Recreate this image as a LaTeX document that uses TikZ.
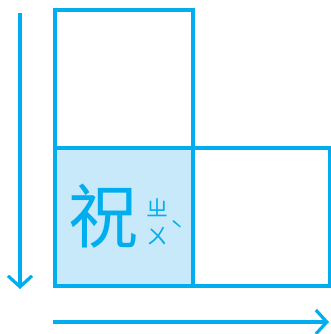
\documentclass[tikz,border=0pt]{standalone}
\usepackage{fontspec}
\newfontfamily\cjk{Noto Sans CJK TC}
\usetikzlibrary{arrows.meta}
\definecolor{cy}{HTML}{00AEEF}
\definecolor{lb}{HTML}{C8E9F9}
\begin{document}
\begin{tikzpicture}[x=1pt,y=-1pt,
  sq/.style={draw=cy,line width=3.6pt},
  axis/.style={draw=cy,line width=3.2pt,-{Straight Barb[length=11pt,width=24pt,line width=3.2pt]}},
  big/.style={text=cy,font=\cjk\fontsize{70}{70}\selectfont,inner sep=0pt},
  small/.style={text=cy,font=\cjk\fontsize{22}{22}\selectfont,inner sep=0pt}]
\useasboundingbox (0,0) rectangle (331,334);
\path[sq] (55,10) rectangle (193,148);
\path[sq,fill=lb] (55,148) rectangle (193,286);
\path[sq] (193,148) rectangle (330,286);
\coordinate (vs) at (20,13);
\coordinate (ve) at (20,289);
\coordinate (hs) at (53,322);
\coordinate (he) at (329,322);
\draw[axis] (vs) -- (ve);
\draw[axis] (hs) -- (he);
\node[big] (zhu) at (103,216) {祝};
\node[small] (b1) at (157,208) {ㄓ};
\node[small] (b2) at (157,236) {ㄨ};
\node[small] (tone) at (177,230) {ˋ};
\end{tikzpicture}
\end{document}
